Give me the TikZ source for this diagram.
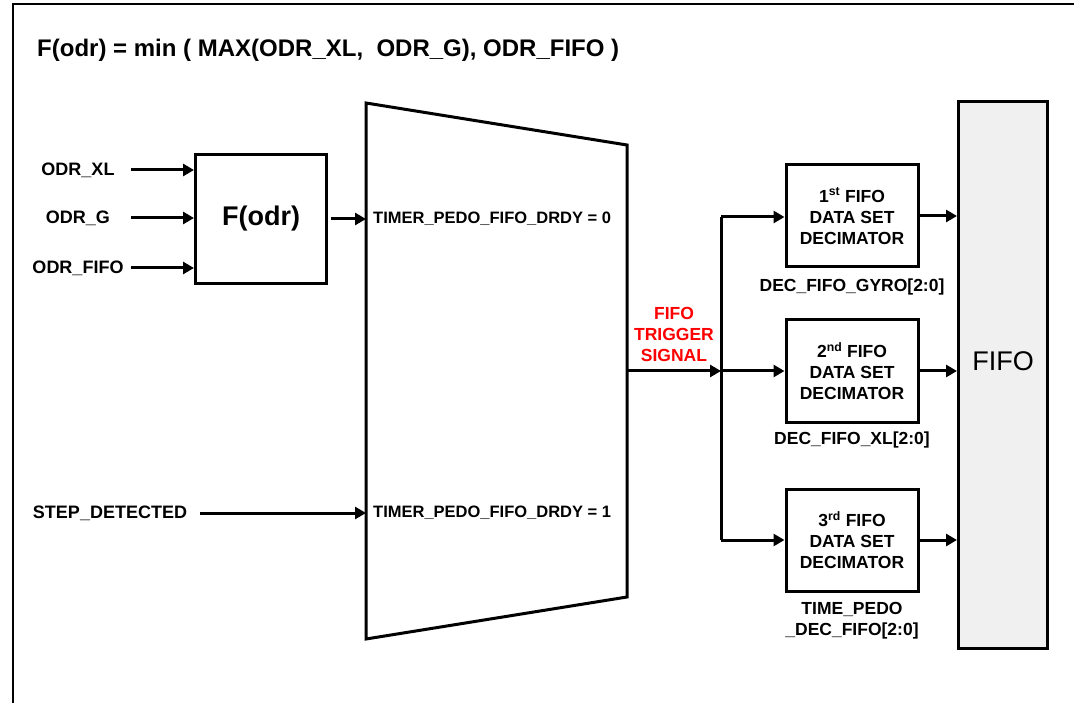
\documentclass[tikz,border=0pt]{standalone}
\usepackage{fontspec}
\setmainfont{Liberation Sans}
\usetikzlibrary{arrows.meta}
\definecolor{fifogray}{HTML}{F0F0F0}
\definecolor{trigred}{HTML}{FF0000}
\begin{document}
\begin{tikzpicture}[x=1pt,y=-1pt,
  lbl/.style={font=\fontsize{17.5}{21}\selectfont\bfseries, inner sep=0pt, align=center},
  conn/.style={line width=3pt, -{Triangle[length=11pt,width=12pt]}},
  wire/.style={line width=3pt},
  blk/.style={draw, line width=3pt, minimum width=132pt, minimum height=102pt, inner sep=0pt, align=center, font=\fontsize{17.5}{21}\selectfont\bfseries},
]
\useasboundingbox (0,0) rectangle (1074,703);
\draw[line width=2.2pt] (13,703) -- (13,4) -- (1074,4);
\node[anchor=base west, font=\fontsize{24}{27}\selectfont\bfseries, inner sep=0pt] (title) at (37,57) {F(odr) = min ( MAX(ODR\_XL,\ \ ODR\_G), ODR\_FIFO )};

% inputs
\node[lbl, font=\fontsize{18}{21}\selectfont\bfseries] (oxl) at (78,170) {ODR\_XL};
\node[lbl, font=\fontsize{18}{21}\selectfont\bfseries] (og) at (78,218) {ODR\_G};
\node[lbl, font=\fontsize{18}{21}\selectfont\bfseries] (ofifo) at (78,268) {ODR\_FIFO};
\node[draw, line width=3pt, minimum width=131pt, minimum height=129pt, inner sep=0pt, font=\fontsize{27}{30}\selectfont\bfseries] (fodr) at (261,219) {F(odr)};
\coordinate (s1) at (131,170);
\coordinate (s2) at (131,218);
\coordinate (s3) at (131,268);
\draw[conn] (s1) -- (s1 -| fodr.west);
\draw[conn] (s2) -- (s2 -| fodr.west);
\draw[conn] (s3) -- (s3 -| fodr.west);

% trapezoid (mux)
\coordinate (tl) at (366,103);
\coordinate (tr) at (627,145);
\coordinate (br) at (627,597);
\coordinate (bl) at (366,639);
\draw[line width=3pt, line join=miter] (tl) -- (tr) -- (br) -- (bl) -- cycle;
\node[lbl, anchor=west, font=\fontsize{16.5}{20}\selectfont\bfseries] (t0) at (373,219) {TIMER\_PEDO\_FIFO\_DRDY = 0};
\node[lbl, anchor=west, font=\fontsize{16.5}{20}\selectfont\bfseries] (t1) at (373,513) {TIMER\_PEDO\_FIFO\_DRDY = 1};
\coordinate (fo) at ([xshift=3pt]fodr.east);
\draw[conn] (fo) -- (fo -| tl);

\node[lbl, font=\fontsize{18}{21}\selectfont\bfseries] (step) at (110,513) {STEP\_DETECTED};
\coordinate (s4) at (200,513);
\draw[conn] (s4) -- (s4 -| tl);

% trigger bus
\coordinate (out) at (627,371);
\coordinate (bt) at (721,217);
\coordinate (bm) at (721,371);
\coordinate (bb) at (721,540);
\node[lbl, text=trigred] (trig) at (674,334) {FIFO\\TRIGGER\\SIGNAL};
\draw[conn] (out) -- (bm);
\draw[wire] (bt) -- (bb);

% decimators
\node[blk] (d1) at (852,216) {1\textsuperscript{st} FIFO\\DATA SET\\DECIMATOR};
\node[blk] (d2) at (852,371) {2\textsuperscript{nd} FIFO\\DATA SET\\DECIMATOR};
\node[blk] (d3) at (852,540) {3\textsuperscript{rd} FIFO\\DATA SET\\DECIMATOR};
\draw[conn] (bt) -- (bt -| d1.west);
\draw[conn] (bm) -- (bm -| d2.west);
\draw[conn] (bb) -- (bb -| d3.west);

\node[lbl] (l1) at (852,287) {DEC\_FIFO\_GYRO[2:0]};
\node[lbl] (l2) at (852,440) {DEC\_FIFO\_XL[2:0]};
\node[lbl] (l3) at (852,621) {TIME\_PEDO\\\_DEC\_FIFO[2:0]};

% FIFO
\node[draw, fill=fifogray, line width=3pt, minimum width=89pt, minimum height=546pt, inner sep=0pt] (fifo) at (1003,375) {};
\node[font=\fontsize{27}{30}\selectfont, inner sep=0pt] (fifolbl) at (1003,361) {FIFO};
\draw[conn] (d1.east) -- (d1.east -| fifo.west);
\draw[conn] (d2.east) -- (d2.east -| fifo.west);
\draw[conn] (d3.east) -- (d3.east -| fifo.west);
\end{tikzpicture}
\end{document}
